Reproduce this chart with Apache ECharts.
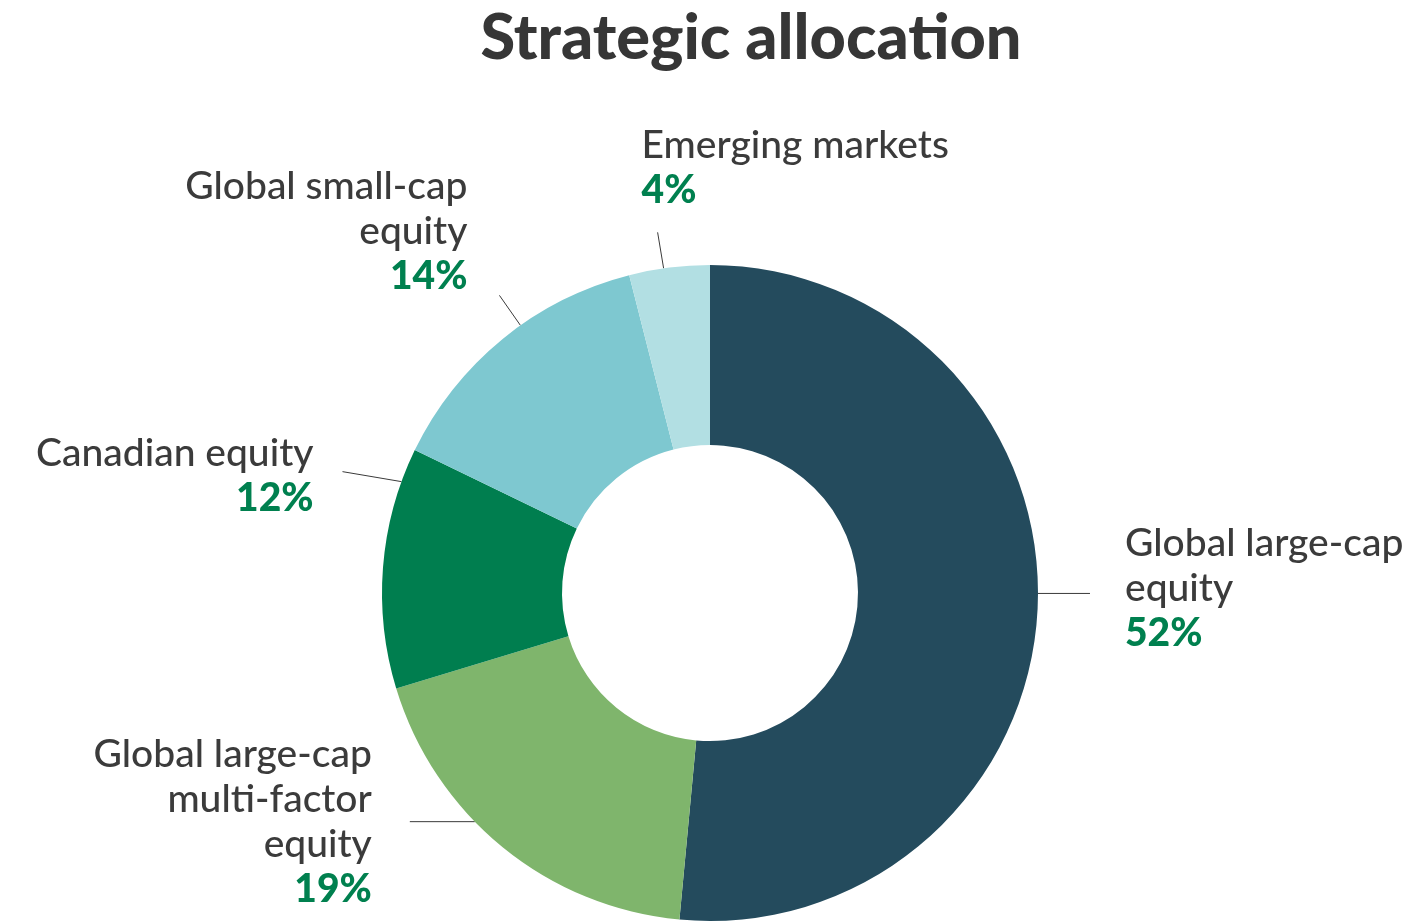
<!DOCTYPE html>
<html>
<head>
<meta charset="utf-8">
<script src="https://cdn.jsdelivr.net/npm/echarts@6/dist/echarts.min.js"></script>
<style>
  html, body { margin: 0; padding: 0; background: #fff; }
  #chart { width: 1420px; height: 922px; }
</style>
</head>
<body>
<div id="chart"></div>
<script>
  // data, clockwise from 12 o'clock
  const names = [
    'Global large-cap\nequity',
    'Global large-cap\nmulti-factor\nequity',
    'Canadian equity',
    'Global small-cap\nequity',
    'Emerging markets'
  ];
  const values = [52, 19, 12, 14, 4];
  const colors = ['#244b5d', '#7fb56c', '#007e4f', '#7ec8d0', '#b2dfe3'];

  // label line placement: shift of the anchor along the arc (deg), line vector, text offset from line end
  const lineShift = [-2.6, 6.6, 15.4, 3.9, -1];
  const lineVec = [[52, 0], [-65, 0], [-59, -10], [-21, -30], [-6, -36]];
  const textOff = [[35, -5, 'left'], [-38, 0, 'right'], [-29, 4, 'right'], [-32, -64, 'right'], [-16, -64, 'left']];

  const R_IN = 148, R_OUT = 328;
  const CY = 0.6432;

  const chart = echarts.init(document.getElementById('chart'));

  const option = {
    animation: false,
    title: {
      text: 'Strategic allocation',
      left: 746,
      top: 2,
      textAlign: 'center',
      textStyle: {
        fontFamily: 'Lato',
        fontWeight: 900,
        fontSize: 63,
        color: '#363636'
      }
    },
    series: [{
      type: 'pie',
      center: ['50%', (CY * 100) + '%'],
      radius: [R_IN, R_OUT],
      startAngle: 90,
      clockwise: true,
      avoidLabelOverlap: false,
      itemStyle: { borderWidth: 0 },
      label: {
        show: true,
        position: 'outside',
        formatter: function (p) {
          return '{n|' + p.name.split('\n').join('}\n{n|') + '}\n{p|' + p.value + '%}';
        },
        rich: {
          n: { fontFamily: 'Lato', fontSize: 39, fontWeight: 500, color: '#3b3b3b', lineHeight: 45 },
          p: { fontFamily: 'Lato', fontSize: 39, fontWeight: 900, color: '#00804f', lineHeight: 45 }
        }
      },
      labelLine: {
        show: true,
        length: 20,
        length2: 0,
        lineStyle: { color: '#3a3a3a', width: 1 }
      },
      labelLayout: function (params) {
        const i = params.dataIndex;
        const cx = chart.getWidth() * 0.5;
        const cy = chart.getHeight() * CY;
        const p0 = params.labelLinePoints[0];
        const a = Math.atan2(p0[1] - cy, p0[0] - cx) + lineShift[i] * Math.PI / 180;
        const s = [cx + R_OUT * Math.cos(a), cy + R_OUT * Math.sin(a)];
        const e = [s[0] + lineVec[i][0], s[1] + lineVec[i][1]];
        return {
          x: e[0] + textOff[i][0],
          y: e[1] + textOff[i][1],
          align: textOff[i][2],
          verticalAlign: 'middle',
          labelLinePoints: [s, e]
        };
      },
      data: names.map(function (n, i) {
        return { name: n, value: values[i], itemStyle: { color: colors[i] } };
      })
    }]
  };

  chart.setOption(option);
</script>
</body>
</html>
